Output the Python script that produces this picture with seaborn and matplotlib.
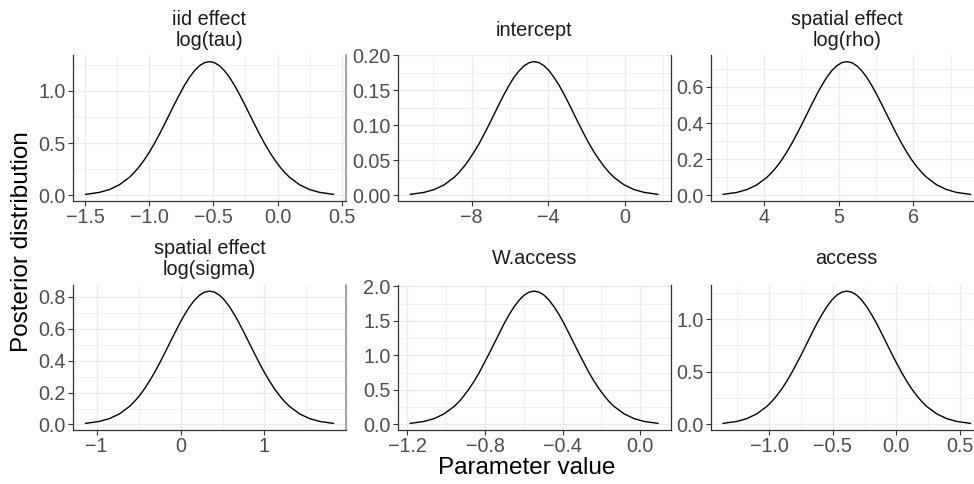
import matplotlib
matplotlib.use("Agg")
import matplotlib.pyplot as plt
import seaborn as sns
import pandas as pd
from matplotlib.ticker import FixedLocator, AutoMinorLocator, FuncFormatter

# Values (posterior densities)
tau_x = [-1.497, -1.388, -1.31, -1.232, -1.154, -1.115, -1.076, -1.037, -0.998, -0.959, -0.92, -0.881,
         -0.842, -0.803, -0.764, -0.725, -0.686, -0.647, -0.608, -0.569, -0.53, -0.491, -0.452, -0.413,
         -0.374, -0.335, -0.296, -0.257, -0.218, -0.179, -0.14, -0.101, -0.062, -0.023, 0.016, 0.055,
         0.094, 0.172, 0.25, 0.328, 0.437]
tau_y = [0.010, 0.029, 0.056, 0.102, 0.173, 0.221, 0.277, 0.342, 0.416, 0.497, 0.586, 0.680,
         0.776, 0.873, 0.966, 1.053, 1.130, 1.193, 1.241, 1.270, 1.280, 1.270, 1.241, 1.193,
         1.130, 1.053, 0.966, 0.873, 0.776, 0.680, 0.586, 0.497, 0.416, 0.342, 0.277, 0.221,
         0.173, 0.102, 0.056, 0.029, 0.010]

icpt_x = [-11.22, -10.49, -9.97, -9.44, -8.92, -8.66, -8.40, -8.14, -7.88, -7.61, -7.35, -7.09,
          -6.83, -6.57, -6.31, -6.05, -5.79, -5.52, -5.26, -5.00, -4.74, -4.48, -4.22, -3.96,
          -3.70, -3.43, -3.17, -2.91, -2.65, -2.39, -2.13, -1.87, -1.61, -1.34, -1.08, -0.82,
          -0.56, -0.04, 0.49, 1.01, 1.74]
icpt_y = [0.0016, 0.0044, 0.0084, 0.0152, 0.0258, 0.0329, 0.0413, 0.0510, 0.0620, 0.0742, 0.0874, 0.1014,
          0.1158, 0.1303, 0.1442, 0.1571, 0.1686, 0.1780, 0.1851, 0.1895, 0.1910, 0.1895, 0.1851, 0.1780,
          0.1686, 0.1571, 0.1442, 0.1303, 0.1158, 0.1014, 0.0874, 0.0742, 0.0620, 0.0510, 0.0413, 0.0329,
          0.0258, 0.0152, 0.0084, 0.0044, 0.0016]

rho_x = [3.451, 3.639, 3.772, 3.906, 4.04, 4.107, 4.174, 4.241, 4.307, 4.374, 4.441, 4.508,
         4.575, 4.642, 4.709, 4.776, 4.842, 4.909, 4.976, 5.043, 5.11, 5.177, 5.244, 5.311,
         5.378, 5.444, 5.511, 5.578, 5.645, 5.712, 5.779, 5.846, 5.913, 5.979, 6.046, 6.113,
         6.18, 6.314, 6.448, 6.581, 6.769]
rho_y = [0.0061, 0.0169, 0.0325, 0.0589, 0.1002, 0.1276, 0.1600, 0.1976, 0.2402, 0.2875, 0.3388, 0.3930,
         0.4488, 0.5046, 0.5586, 0.6087, 0.6531, 0.6898, 0.7172, 0.7342, 0.7400, 0.7342, 0.7172, 0.6898,
         0.6531, 0.6087, 0.5586, 0.5046, 0.4488, 0.3930, 0.3388, 0.2875, 0.2402, 0.1976, 0.1600, 0.1276,
         0.1002, 0.0589, 0.0325, 0.0169, 0.0061]

sigma_x = [-1.134, -0.967, -0.848, -0.728, -0.609, -0.549, -0.49, -0.43, -0.371, -0.311, -0.251, -0.192,
           -0.132, -0.072, -0.013, 0.047, 0.106, 0.166, 0.226, 0.285, 0.345, 0.405, 0.464, 0.524,
           0.584, 0.643, 0.703, 0.762, 0.822, 0.882, 0.941, 1.001, 1.061, 1.12, 1.18, 1.239,
           1.299, 1.418, 1.538, 1.657, 1.824]
sigma_y = [0.0068, 0.0191, 0.0367, 0.0665, 0.1131, 0.1441, 0.1808, 0.2233, 0.2714, 0.3248, 0.3827, 0.4440,
           0.5071, 0.5701, 0.6310, 0.6877, 0.7378, 0.7792, 0.8103, 0.8295, 0.8360, 0.8295, 0.8103, 0.7792,
           0.7378, 0.6877, 0.6310, 0.5701, 0.5071, 0.4440, 0.3827, 0.3248, 0.2714, 0.2233, 0.1808, 0.1441,
           0.1131, 0.0665, 0.0367, 0.0191, 0.0068]

waccess_x = [-1.186, -1.114, -1.062, -1.011, -0.959, -0.933, -0.908, -0.882, -0.856, -0.83, -0.805, -0.779,
             -0.753, -0.727, -0.702, -0.676, -0.65, -0.624, -0.599, -0.573, -0.547, -0.521, -0.495, -0.47,
             -0.444, -0.418, -0.392, -0.367, -0.341, -0.315, -0.289, -0.264, -0.238, -0.212, -0.186, -0.161,
             -0.135, -0.083, -0.032, 0.02, 0.092]
waccess_y = [0.0158, 0.0440, 0.0848, 0.1536, 0.2612, 0.3328, 0.4174, 0.5154, 0.6266, 0.7499, 0.8836, 1.0250,
             1.1706, 1.3161, 1.4568, 1.5876, 1.7032, 1.7990, 1.8706, 1.9150, 1.9300, 1.9150, 1.8706, 1.7990,
             1.7032, 1.5876, 1.4568, 1.3161, 1.1706, 1.0250, 0.8836, 0.7499, 0.6266, 0.5154, 0.4174, 0.3328,
             0.2612, 0.1536, 0.0848, 0.0440, 0.0158]

access_x = [-1.363, -1.254, -1.175, -1.097, -1.018, -0.979, -0.94, -0.9, -0.861, -0.822, -0.783, -0.743,
            -0.704, -0.665, -0.626, -0.586, -0.547, -0.508, -0.469, -0.429, -0.39, -0.351, -0.311, -0.272,
            -0.233, -0.194, -0.154, -0.115, -0.076, -0.037, 0.003, 0.042, 0.081, 0.12, 0.16, 0.199,
            0.238, 0.317, 0.395, 0.474, 0.583]
access_y = [0.0104, 0.0289, 0.0556, 0.1006, 0.1712, 0.2181, 0.2736, 0.3378, 0.4107, 0.4915, 0.5792, 0.6718,
            0.7673, 0.8627, 0.9549, 1.0406, 1.1164, 1.1791, 1.2261, 1.2552, 1.2650, 1.2552, 1.2261, 1.1791,
            1.1164, 1.0406, 0.9549, 0.8627, 0.7673, 0.6718, 0.5792, 0.4915, 0.4107, 0.3378, 0.2736, 0.2181,
            0.1712, 0.1006, 0.0556, 0.0289, 0.0104]

titles = ["iid effect\nlog(tau)", "intercept", "spatial effect\nlog(rho)",
          "spatial effect\nlog(sigma)", "W.access", "access"]

x_ticks = [[-1.5, -1.0, -0.5, 0.0, 0.5], [-8, -4, 0], [4, 5, 6],
           [-1, 0, 1], [-1.2, -0.8, -0.4, 0.0], [-1.0, -0.5, 0.0, 0.5]]
y_ticks = [[0.0, 0.5, 1.0], [0.0, 0.05, 0.10, 0.15, 0.20], [0.0, 0.2, 0.4, 0.6],
           [0.0, 0.2, 0.4, 0.6, 0.8], [0.0, 0.5, 1.0, 1.5, 2.0], [0.0, 0.5, 1.0]]
x_fmt = ["%.1f", "%d", "%d", "%d", "%.1f", "%.1f"]
y_fmt = ["%.1f", "%.2f", "%.1f", "%.1f", "%.1f", "%.1f"]

curves = [(tau_x, tau_y), (icpt_x, icpt_y), (rho_x, rho_y),
          (sigma_x, sigma_y), (waccess_x, waccess_y), (access_x, access_y)]


def minus_fmt(fmt):
    return FuncFormatter(lambda v, p: (fmt % v).replace("-", "\u2212"))


sns.set_style("white")
plt.rcParams['font.family'] = ['Liberation Sans', 'DejaVu Sans']

fig = plt.figure(figsize=(9.74, 4.84), dpi=100)

W, H = 974.0, 484.0
col_left = [73, 397.7, 710.5]
col_width = [273, 272.8, 272.5]
row_top = [55, 284.5]
row_bottom = [201, 430]
title_y = [30, 259]
right_spine = ["#8a8a8a", "#333333", None]

for i, (cx, cy) in enumerate(curves):
    r, c = divmod(i, 3)
    ax = fig.add_axes([col_left[c] / W, 1 - row_bottom[r] / H,
                       col_width[c] / W, (row_bottom[r] - row_top[r]) / H])
    df = pd.DataFrame({"x": cx, "y": cy})
    sns.lineplot(data=df, x="x", y="y", ax=ax, color="black", linewidth=1.0, sort=False)
    for ln in ax.lines:
        ln.set_solid_joinstyle("round")
    ax.margins(x=0.05, y=0.05)

    ax.xaxis.set_major_locator(FixedLocator(x_ticks[i]))
    ax.yaxis.set_major_locator(FixedLocator(y_ticks[i]))
    ax.xaxis.set_minor_locator(AutoMinorLocator(2))
    ax.yaxis.set_minor_locator(AutoMinorLocator(2))
    ax.xaxis.set_major_formatter(minus_fmt(x_fmt[i]))
    ax.yaxis.set_major_formatter(minus_fmt(y_fmt[i]))

    ax.grid(which="major", color="#ebebeb", linewidth=1.0)
    ax.grid(which="minor", color="#f0f0f0", linewidth=0.7)
    ax.set_axisbelow(True)

    ax.tick_params(which="major", length=3.5, width=0.8, color="#333333",
                   labelsize=14.2, labelcolor="#4d4d4d", pad=1.5,
                   bottom=True, left=True)
    ax.tick_params(which="minor", length=0, bottom=False, left=False)

    for side in ["left", "bottom"]:
        ax.spines[side].set_color("#333333")
        ax.spines[side].set_linewidth(0.9)
    ax.spines["top"].set_visible(False)
    if right_spine[c]:
        ax.spines["right"].set_color(right_spine[c])
        ax.spines["right"].set_linewidth(1.1 if c == 0 else 0.9)
    else:
        ax.spines["right"].set_visible(False)
    ax.set_xlabel("")
    ax.set_ylabel("")

    fig.text((col_left[c] + col_width[c] / 2) / W, 1 - title_y[r] / H, titles[i],
             ha="center", va="center", fontsize=14.3, color="#1a1a1a", linespacing=1.12)

fig.text(22 / W, 1 - 242 / H, "Posterior distribution", rotation=90,
         ha="center", va="center", fontsize=17.5, color="black")
fig.text(527 / W, 1 - 468 / H, "Parameter value",
         ha="center", va="center", fontsize=17.5, color="black")

fig.savefig("out.png", dpi=100)
